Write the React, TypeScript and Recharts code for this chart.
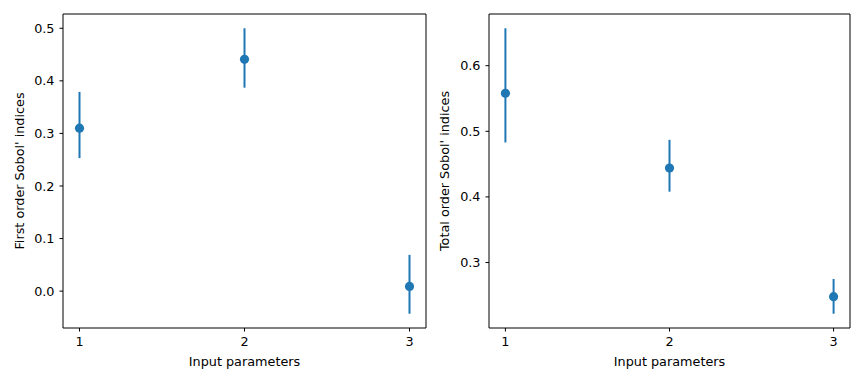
import { ScatterChart, Scatter, XAxis, YAxis, ErrorBar, ReferenceArea, Label } from "recharts";

const PARAMS = [1, 2, 3];

const FIRST_ORDER = [0.31, 0.441, 0.009];
const FIRST_LOW = [0.253, 0.387, -0.043];
const FIRST_HIGH = [0.379, 0.5, 0.069];

const TOTAL_ORDER = [0.558, 0.444, 0.248];
const TOTAL_LOW = [0.483, 0.408, 0.222];
const TOTAL_HIGH = [0.657, 0.487, 0.275];

const FIRST_TICKS = [0, 0.1, 0.2, 0.3, 0.4, 0.5];
const TOTAL_TICKS = [0.3, 0.4, 0.5, 0.6];
const X_TICKS = [1, 2, 3];

const BLUE = "#1f77b4";
const FONT = "DejaVu Sans";
const FS = 12.8;

function buildRows(vals: number[], low: number[], high: number[]) {
  return PARAMS.map((p, i) => ({
    x: p,
    y: vals[i],
    err: [vals[i] - low[i], high[i] - vals[i]],
  }));
}

// matplotlib-ish auto limits: 5% margin around data incl. error bars
function padDomain(low: number[], high: number[]): [number, number] {
  const lo = Math.min(...low);
  const hi = Math.max(...high);
  const m = (hi - lo) * 0.05;
  return [lo - m, hi + m];
}

interface PanelProps {
  left: number;
  yAxisWidth: number;
  rightMargin: number;
  yLabel: string;
  yLabelX: number;
  vals: number[];
  low: number[];
  high: number[];
  yTicks: number[];
}

function Panel({ left, yAxisWidth, rightMargin, yLabel, yLabelX, vals, low, high, yTicks }: PanelProps) {
  const data = buildRows(vals, low, high);
  const yDomain = padDomain(low, high);
  const tickStyle = { fontSize: FS, fontFamily: FONT, fill: "#000" };

  return (
    <div style={{ position: "absolute", left, top: 0 }}>
      <ScatterChart width={432} height={384} margin={{ top: 14, right: rightMargin, bottom: 0, left: 0 }}>
        <XAxis
          type="number"
          dataKey="x"
          domain={[0.9, 3.1]}
          ticks={X_TICKS}
          allowDataOverflow
          axisLine={false}
          tickLine={{ stroke: "#000" }}
          tickSize={3.5}
          tickMargin={5}
          tick={tickStyle}
          height={56}
        >
          <Label
            content={({ viewBox }: any) => (
              <text
                x={viewBox.x + viewBox.width / 2}
                y={361}
                textAnchor="middle"
                dominantBaseline="central"
                fontFamily={FONT}
                fontSize={FS}
                fill="#000"
              >
                Input parameters
              </text>
            )}
          />
        </XAxis>
        <YAxis
          type="number"
          dataKey="y"
          domain={yDomain}
          ticks={yTicks}
          allowDataOverflow
          axisLine={false}
          tickLine={{ stroke: "#000" }}
          tickSize={3.5}
          tickMargin={5}
          tick={tickStyle}
          tickFormatter={(v: number) => v.toFixed(1)}
          width={yAxisWidth}
        >
          <Label
            content={({ viewBox }: any) => {
              const cy = viewBox.y + viewBox.height / 2;
              return (
                <text
                  x={yLabelX}
                  y={cy}
                  transform={`rotate(-90 ${yLabelX} ${cy})`}
                  textAnchor="middle"
                  dominantBaseline="central"
                  fontFamily={FONT}
                  fontSize={FS}
                  fill="#000"
                >
                  {yLabel}
                </text>
              );
            }}
          />
        </YAxis>
        <ReferenceArea
          x1={0.9}
          x2={3.1}
          y1={yDomain[0]}
          y2={yDomain[1]}
          fill="none"
          fillOpacity={0}
          stroke="#000"
          strokeWidth={1}
        />
        <Scatter
          data={data}
          isAnimationActive={false}
          shape={(p: any) => <circle cx={p.cx} cy={p.cy} r={4.6} fill={BLUE} />}
        >
          <ErrorBar dataKey="err" direction="y" width={0} stroke={BLUE} strokeWidth={2} isAnimationActive={false} />
        </Scatter>
      </ScatterChart>
    </div>
  );
}

export default function App() {
  return (
    <div style={{ position: "absolute", left: 0, top: 0, width: 864, height: 384, background: "#fff" }}>
      <Panel
        left={0}
        yAxisWidth={63}
        rightMargin={6}
        yLabel="First order Sobol' indices"
        yLabelX={19}
        vals={FIRST_ORDER}
        low={FIRST_LOW}
        high={FIRST_HIGH}
        yTicks={FIRST_TICKS}
      />
      <Panel
        left={432}
        yAxisWidth={57}
        rightMargin={14}
        yLabel="Total order Sobol' indices"
        yLabelX={12}
        vals={TOTAL_ORDER}
        low={TOTAL_LOW}
        high={TOTAL_HIGH}
        yTicks={TOTAL_TICKS}
      />
    </div>
  );
}
